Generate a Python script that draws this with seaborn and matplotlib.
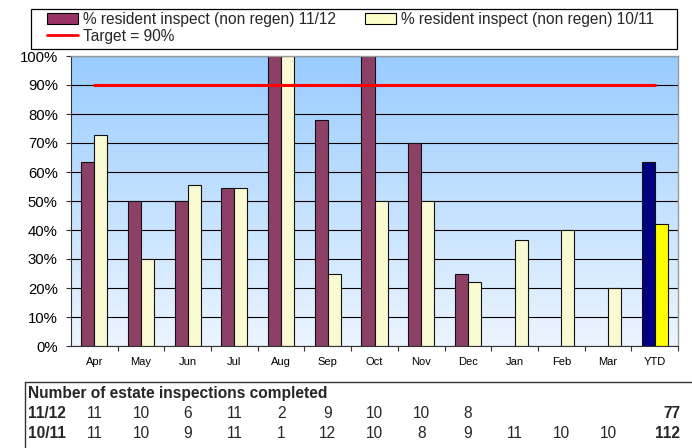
import numpy as np
import pandas as pd
import seaborn as sns
import matplotlib.pyplot as plt
from matplotlib.patches import Patch, Rectangle
from matplotlib.lines import Line2D
from matplotlib.ticker import FuncFormatter, MultipleLocator, FixedLocator
import matplotlib.transforms as mtransforms

months = ["Apr", "May", "Jun", "Jul", "Aug", "Sep", "Oct", "Nov", "Dec",
          "Jan", "Feb", "Mar", "YTD"]
pct_1112 = [63.6, 50, 50, 54.5, 100, 77.8, 100, 70, 25,
            np.nan, np.nan, np.nan, 63.6]
pct_1011 = [72.7, 30, 55.6, 54.5, 100, 25, 50, 50, 22.2,
            36.4, 40, 20, 41.9]
target = 90

count_1112 = ["11", "10", "6", "11", "2", "9", "10", "10", "8", "", "", ""]
count_1011 = ["11", "10", "9", "11", "1", "12", "10", "8", "9", "11", "10", "10"]
total_1112 = "77"
total_1011 = "112"

label_1112 = "% resident inspect (non regen) 11/12"
label_1011 = "% resident inspect (non regen) 10/11"
label_target = "Target = 90%"

df = pd.DataFrame({
    "Month": months * 2,
    "Value": pct_1112 + pct_1011,
    "Season": ["11/12"] * len(months) + ["10/11"] * len(months),
}).dropna()

sns.set_theme(style="white")
plt.rcParams["font.family"] = ["Liberation Sans", "DejaVu Sans"]

W, H = 692, 448
fig = plt.figure(figsize=(W / 100, H / 100), dpi=100)
ax = fig.add_axes([71 / W, 1 - 346 / H, (678 - 71) / W, (346 - 56) / H])

# gradient plot background
grad = np.linspace(0, 1, 256).reshape(-1, 1)
top_c = np.array([0x99, 0xCC, 0xFF]) / 255
bot_c = np.array([0xEC, 0xF5, 0xFF]) / 255
img = bot_c[None, None, :] * (1 - grad[:, :, None]) + top_c[None, None, :] * grad[:, :, None]
ax.imshow(img, extent=(-0.5, len(months) - 0.5, 0, 100), aspect="auto",
          origin="lower", zorder=0)

sns.barplot(data=df, x="Month", y="Value", hue="Season", order=months,
            hue_order=["11/12", "10/11"], palette=["#993366", "#FFFFCC"],
            width=0.56, edgecolor="#111111", linewidth=0.8, errorbar=None,
            ax=ax, zorder=2)
if ax.get_legend() is not None:
    ax.get_legend().remove()

# YTD bars get their own colours
ax.containers[0][-1].set_facecolor("#000080")
ax.containers[1][-1].set_facecolor("#FFFF00")

ax.plot(range(len(months)), [target] * len(months), color="#FF0000",
        linewidth=2.2, zorder=3)

ax.set_xlim(-0.5, len(months) - 0.5)
ax.set_ylim(0, 100)
ax.yaxis.set_major_locator(MultipleLocator(10))
ax.yaxis.set_major_formatter(FuncFormatter(lambda v, p: f"{v:.0f}%"))
ax.yaxis.grid(True, color="black", linewidth=0.8, zorder=1)
ax.set_axisbelow(True)
ax.set_xlabel("")
ax.set_ylabel("")
ax.tick_params(axis="y", labelsize=10.7, length=3.5, width=0.8, color="#333333",
               left=True, direction="out", pad=6, labelcolor="black")
ax.tick_params(axis="x", which="major", labelsize=8, length=0, pad=8,
               labelcolor="black")
ax.xaxis.set_minor_locator(FixedLocator(np.arange(len(months)) + 0.5))
ax.tick_params(axis="x", which="minor", length=3.5, width=0.8, color="#333333",
               bottom=True, direction="out")
for side in ["left", "bottom"]:
    ax.spines[side].set_color("#333333")
    ax.spines[side].set_linewidth(0.8)
for side in ["top", "right"]:
    ax.spines[side].set_color("#999999")
    ax.spines[side].set_linewidth(1.0)

# legend box drawn separately so its padding matches
fig.add_artist(Rectangle((31 / W, 1 - 49 / H), (677 - 31) / W, 40 / H,
                         transform=fig.transFigure, facecolor="white",
                         edgecolor="black", linewidth=0.9, zorder=0))
handles = [
    Patch(facecolor="#993366", edgecolor="black", linewidth=0.8, label=label_1112),
    Line2D([], [], color="#FF0000", linewidth=2, label=label_target),
    Patch(facecolor="#FFFFCC", edgecolor="black", linewidth=0.8, label=label_1011),
]
fig.legend(handles=handles, loc="upper left", ncol=2,
           bbox_to_anchor=(47 / W, 1 - 12 / H), fontsize=11.2, frameon=False,
           handlelength=2.0, handleheight=0.65, handletextpad=0.3,
           columnspacing=1.9, labelspacing=0.1, borderpad=0, borderaxespad=0)

# inspection count table
fig.add_artist(Line2D([25 / W, 1.0], [1 - 382 / H, 1 - 382 / H],
                      color="#333333", linewidth=1.0))
fig.add_artist(Line2D([25 / W, 25 / W], [1 - 382 / H, 0],
                      color="#333333", linewidth=1.0))
fig.text(28 / W, 1 - 393 / H, "Number of estate inspections completed",
         fontsize=11.2, fontweight="bold", va="center", ha="left")
trans = mtransforms.blended_transform_factory(ax.transData, fig.transFigure)
rows = [("11/12", count_1112, total_1112, 1 - 413 / H),
        ("10/11", count_1011, total_1011, 1 - 433 / H)]
for name, counts, total, yy in rows:
    fig.text(28 / W, yy, name, fontsize=11.2, fontweight="bold",
             va="center", ha="left")
    for i, c in enumerate(counts):
        ax.text(i, yy, c, transform=trans, fontsize=11.2, va="center",
                ha="center")
    fig.text(680 / W, yy, total, fontsize=11.2, fontweight="bold",
             va="center", ha="right")

fig.savefig("out.png", dpi=100)
